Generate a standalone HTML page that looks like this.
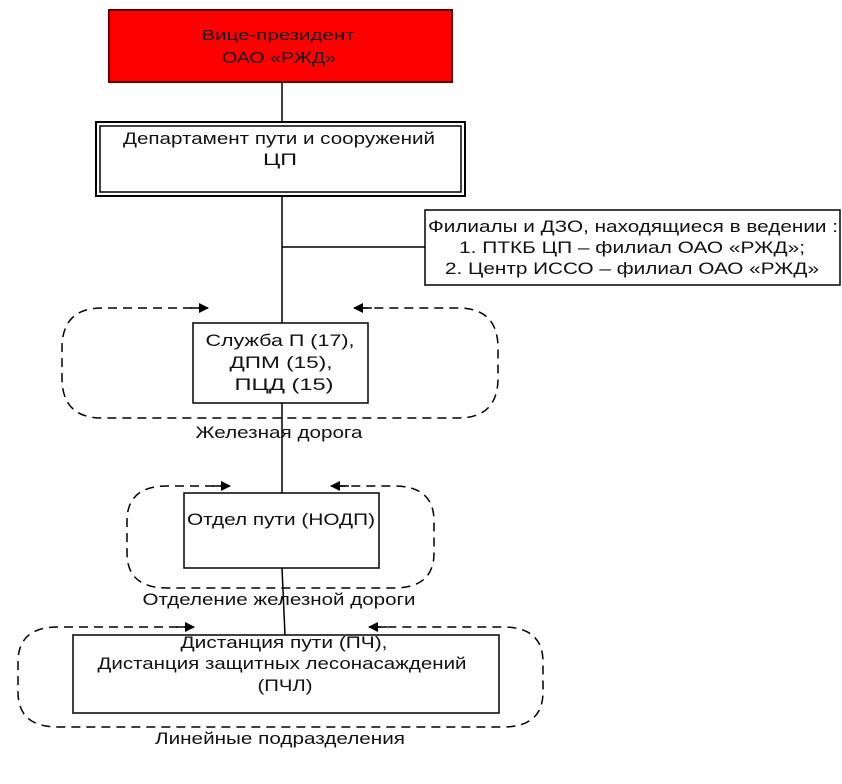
<!DOCTYPE html>
<html><head><meta charset="utf-8"><style>
html,body{margin:0;padding:0;background:#fff;}
svg{display:block;}
text{font-family:"Liberation Sans",sans-serif;fill:#111;}
</style></head><body>
<svg width="842" height="784" viewBox="0 0 842 784" xmlns="http://www.w3.org/2000/svg">
<defs><marker id="ar" markerWidth="10" markerHeight="10" refX="9" refY="5" orient="auto" markerUnits="userSpaceOnUse"><path d="M0,0 L10,5 L0,10 z" fill="#000"/></marker></defs>
<g stroke="#000" stroke-width="1.5" fill="none">
<line x1="282" y1="82" x2="282" y2="323"/>
<line x1="282" y1="247" x2="425" y2="247"/>
<line x1="282" y1="403" x2="282" y2="493"/>
<line x1="282" y1="568" x2="285" y2="635"/>
</g>
<rect x="109" y="10" width="343" height="72" fill="#f00" stroke="#600" stroke-width="2"/>
<text x="278" y="40" font-size="15" text-anchor="middle" textLength="153" lengthAdjust="spacingAndGlyphs">Вице-президент</text>
<text x="279" y="63" font-size="16" text-anchor="middle" textLength="114" lengthAdjust="spacingAndGlyphs">ОАО «РЖД»</text>
<rect x="96" y="122" width="369" height="74" fill="#fff" stroke="#000" stroke-width="2"/>
<rect x="100" y="126" width="361" height="66" fill="none" stroke="#000" stroke-width="1.5"/>
<text x="279" y="144" font-size="17" text-anchor="middle" textLength="312" lengthAdjust="spacingAndGlyphs">Департамент пути и сооружений</text>
<text x="280" y="165" font-size="17" text-anchor="middle" textLength="34" lengthAdjust="spacingAndGlyphs">ЦП</text>
<rect x="425" y="210" width="415" height="75" fill="#fff" stroke="#000" stroke-width="1.5"/>
<text x="633" y="232" font-size="17" text-anchor="middle" textLength="410" lengthAdjust="spacingAndGlyphs">Филиалы и ДЗО, находящиеся в ведении :</text>
<text x="632" y="253" font-size="17" text-anchor="middle" textLength="346" lengthAdjust="spacingAndGlyphs">1. ПТКБ ЦП – филиал ОАО «РЖД»;</text>
<text x="632" y="274" font-size="17" text-anchor="middle" textLength="374" lengthAdjust="spacingAndGlyphs">2. Центр ИССО – филиал ОАО «РЖД»</text>
<g stroke="#000" stroke-width="1.5" fill="none" stroke-dasharray="9,6">
<path d="M207,308 L102,308 Q62,308 62,348 L62,378 Q62,418 102,418 L458,418 Q498,418 498,378 L498,348 Q498,308 458,308 L355,308" />
<path d="M229,486 L167,486 Q127,486 127,521 L127,553 Q127,588 167,588 L394,588 Q434,588 434,553 L434,521 Q434,486 394,486 L332,486"/>
<path d="M193,627 L58,627 Q18,627 18,662 L18,692 Q18,727 58,727 L503,727 Q543,727 543,692 L543,662 Q543,627 503,627 L370,627"/>
</g>
<g stroke="#000" stroke-width="1.5">
<line x1="190" y1="308" x2="208" y2="308" marker-end="url(#ar)"/>
<line x1="372" y1="308" x2="354" y2="308" marker-end="url(#ar)"/>
<line x1="212" y1="486" x2="230" y2="486" marker-end="url(#ar)"/>
<line x1="349" y1="486" x2="331" y2="486" marker-end="url(#ar)"/>
<line x1="176" y1="627" x2="194" y2="627" marker-end="url(#ar)"/>
<line x1="387" y1="627" x2="369" y2="627" marker-end="url(#ar)"/>
</g>
<rect x="193" y="323" width="175" height="80" fill="#fff" stroke="#000" stroke-width="1.5"/>
<text x="280" y="346" font-size="17" text-anchor="middle" textLength="149" lengthAdjust="spacingAndGlyphs">Служба П (17),</text>
<text x="281" y="368" font-size="17" text-anchor="middle" textLength="103" lengthAdjust="spacingAndGlyphs">ДПМ (15),</text>
<text x="284" y="390" font-size="17" text-anchor="middle" textLength="99" lengthAdjust="spacingAndGlyphs">ПЦД (15)</text>
<text x="279" y="438" font-size="17" text-anchor="middle" textLength="167" lengthAdjust="spacingAndGlyphs">Железная дорога</text>
<rect x="184" y="493" width="195" height="75" fill="#fff" stroke="#000" stroke-width="1.5"/>
<text x="281" y="525" font-size="17" text-anchor="middle" textLength="188" lengthAdjust="spacingAndGlyphs">Отдел пути (НОДП)</text>
<text x="279" y="605" font-size="17" text-anchor="middle" textLength="273" lengthAdjust="spacingAndGlyphs">Отделение железной дороги</text>
<rect x="73" y="635" width="426" height="78" fill="#fff" stroke="#000" stroke-width="1.5"/>
<text x="284" y="648" font-size="17" text-anchor="middle" textLength="207" lengthAdjust="spacingAndGlyphs">Дистанция пути (ПЧ),</text>
<text x="282" y="669" font-size="17" text-anchor="middle" textLength="369" lengthAdjust="spacingAndGlyphs">Дистанция защитных лесонасаждений</text>
<text x="285" y="691" font-size="17" text-anchor="middle" textLength="55" lengthAdjust="spacingAndGlyphs">(ПЧЛ)</text>
<text x="280" y="744" font-size="17" text-anchor="middle" textLength="250" lengthAdjust="spacingAndGlyphs">Линейные подразделения</text>
</svg>
</body></html>
